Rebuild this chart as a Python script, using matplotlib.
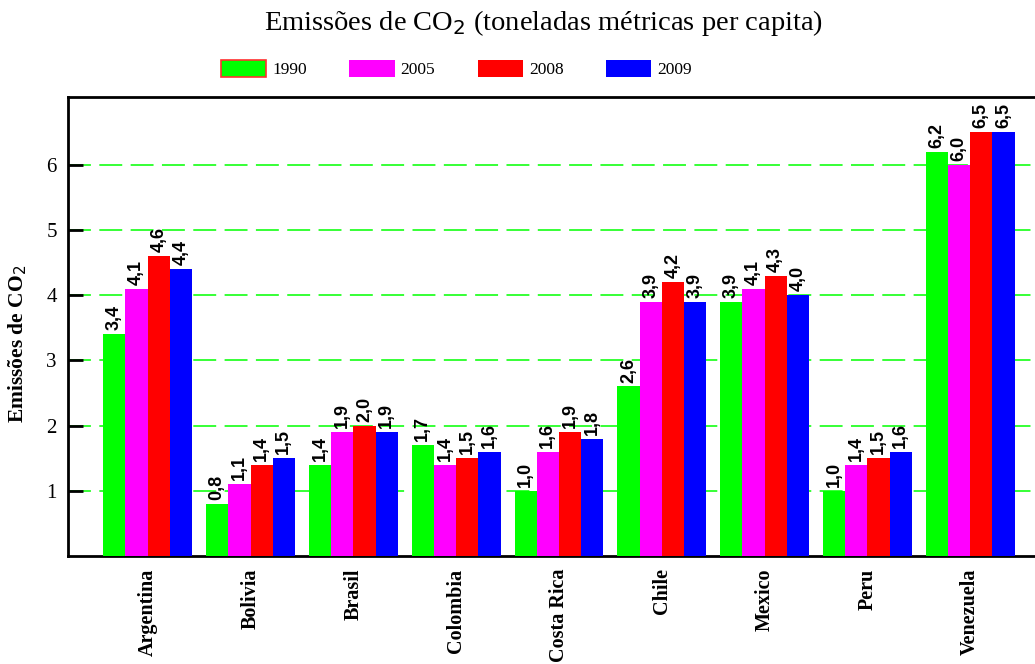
import numpy as np
import matplotlib
matplotlib.use("Agg")
import matplotlib.pyplot as plt

countries = ["Argentina", "Bolivia", "Brasil", "Colombia", "Costa Rica",
             "Chile", "Mexico", "Peru", "Venezuela"]
years = ["1990", "2005", "2008", "2009"]
v1990 = [3.4, 0.8, 1.4, 1.7, 1.0, 2.6, 3.9, 1.0, 6.2]
v2005 = [4.1, 1.1, 1.9, 1.4, 1.6, 3.9, 4.1, 1.4, 6.0]
v2008 = [4.6, 1.4, 2.0, 1.5, 1.9, 4.2, 4.3, 1.5, 6.5]
v2009 = [4.4, 1.5, 1.9, 1.6, 1.8, 3.9, 4.0, 1.6, 6.5]
series = [v1990, v2005, v2008, v2009]
colors = ["#00ff00", "#ff00ff", "#ff0000", "#0000ff"]

serif = ["Liberation Serif", "DejaVu Serif"]
sans = ["Liberation Sans", "DejaVu Sans"]

fig = plt.figure(figsize=(10.35, 6.64), dpi=100)
ax = fig.add_axes([68 / 1035, 1 - 556 / 664, 1 - 68 / 1035, (556 - 97) / 664])

x = np.arange(len(countries))
w = 0.216
for i, (vals, c, yr) in enumerate(zip(series, colors, years)):
    pos = x + (i - 1.5) * w
    ax.bar(pos, vals, width=w, color=c, edgecolor="none", label=yr, zorder=3)
    for px, v in zip(pos, vals):
        ax.text(px, v + 0.06, f"{v:.1f}".replace(".", ","), rotation=90,
                ha="center", va="bottom", fontsize=13, fontweight="bold",
                family=sans, zorder=4)

ax.set_xlim(-0.775, 8.63)
ax.set_ylim(0, 7.04)
ax.set_yticks([1, 2, 3, 4, 5, 6])
ax.set_yticklabels(["1", "2", "3", "4", "5", "6"], family=serif, fontsize=15)
ax.set_xticks(x)
ax.set_xticklabels(countries, rotation=90, family=serif, fontsize=14.5,
                   fontweight="bold", va="top")
ax.tick_params(axis="x", length=0, pad=9)
ax.tick_params(axis="y", direction="in", length=11, width=2, pad=8)
ax.grid(axis="y", color="#00ff00", linestyle=(0, (15, 5.5)), linewidth=1.1, zorder=1)
for s in ["left", "bottom", "top"]:
    ax.spines[s].set_linewidth(2)
ax.spines["right"].set_visible(False)

ax.set_ylabel("Emissões de CO$_2$", family=serif, fontsize=15.5,
              fontweight="bold")
ax.yaxis.set_label_coords(-0.040, 0.462)

fig.text(0.525, 0.965, "Emissões de CO$_2$ (toneladas métricas per capita)",
         ha="center", va="center", family=serif, fontsize=20.5)

leg = fig.legend(loc="center left", bbox_to_anchor=(221 / 1035, 1 - 69 / 664),
                 ncol=4, frameon=False, prop={"family": serif, "size": 12.5},
                 handlelength=2.6, handleheight=1.1, handletextpad=0.35,
                 columnspacing=2.45, borderaxespad=0, borderpad=0)
leg.legend_handles[0].set_edgecolor("#ff3030")
leg.legend_handles[0].set_linewidth(1.2)

fig.savefig("out.png", dpi=100)
